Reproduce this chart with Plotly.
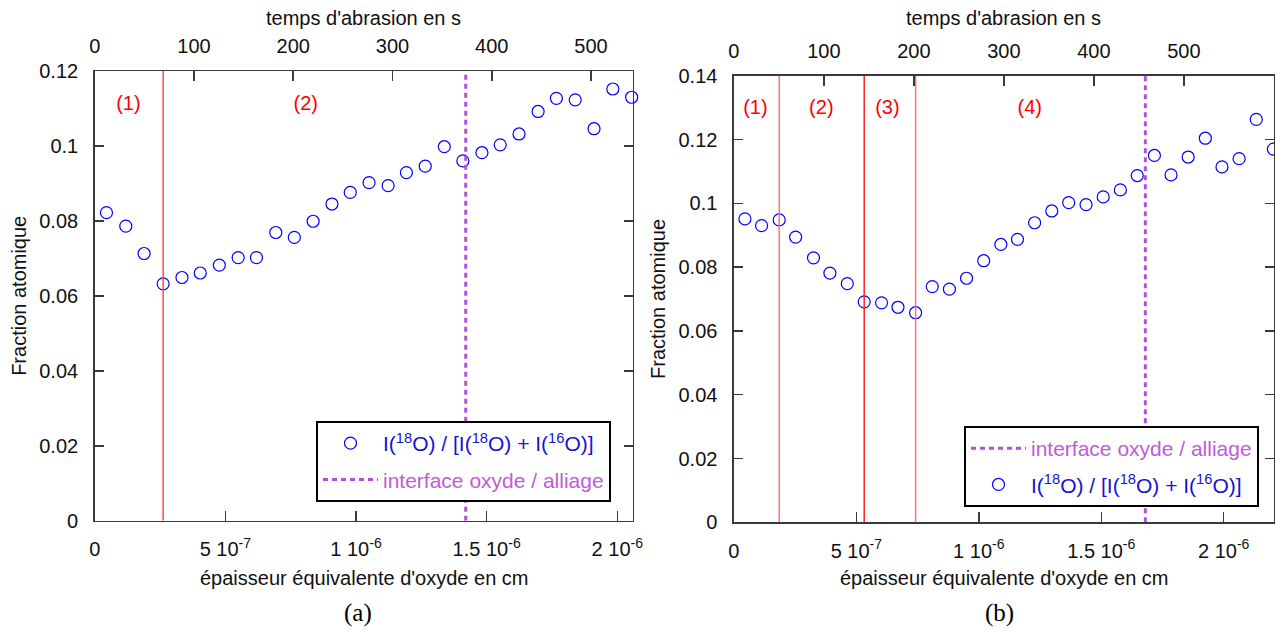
import plotly.graph_objects as go

# ---------------- data : panel (a) ----------------
a_depth = [4.5e-8, 1.19e-7, 1.89e-7, 2.62e-7, 3.34e-7, 4.04e-7, 4.77e-7, 5.49e-7, 6.19e-7,
           6.93e-7, 7.64e-7, 8.36e-7, 9.08e-7, 9.78e-7, 1.05e-6, 1.123e-6, 1.193e-6, 1.265e-6,
           1.338e-6, 1.409e-6, 1.482e-6, 1.552e-6, 1.624e-6, 1.697e-6, 1.767e-6, 1.839e-6,
           1.911e-6, 1.983e-6, 2.055e-6]
a_frac = [0.0822, 0.0786, 0.0713, 0.0632, 0.0649, 0.0661, 0.0682, 0.0702, 0.0702, 0.0769,
          0.0756, 0.0799, 0.0845, 0.0876, 0.0902, 0.0894, 0.0929, 0.0946, 0.0998, 0.0960,
          0.0982, 0.1003, 0.1032, 0.1092, 0.1127, 0.1123, 0.1046, 0.1152, 0.1130]
a_interface = 1.42e-6
a_limits = [2.62e-7]
a_zone_labels = ["(1)", "(2)"]
a_zone_x = [1.29e-7, 8.08e-7]
a_zone_y = 0.111
a_depth_max = 2.059e-6
a_time_max = 542
a_frac_max = 0.12

# ---------------- data : panel (b) ----------------
b_depth = [4.5e-8, 1.13e-7, 1.85e-7, 2.52e-7, 3.25e-7, 3.92e-7, 4.63e-7, 5.32e-7, 6.03e-7,
           6.70e-7, 7.42e-7, 8.10e-7, 8.80e-7, 9.50e-7, 1.020e-6, 1.090e-6, 1.158e-6, 1.228e-6,
           1.298e-6, 1.367e-6, 1.438e-6, 1.508e-6, 1.578e-6, 1.647e-6, 1.717e-6, 1.785e-6,
           1.855e-6, 1.925e-6, 1.993e-6, 2.063e-6, 2.133e-6, 2.203e-6]
b_frac = [0.0951, 0.0930, 0.0948, 0.0894, 0.0829, 0.0781, 0.0748, 0.0691, 0.0688, 0.0674,
          0.0657, 0.0739, 0.0731, 0.0765, 0.0820, 0.0871, 0.0887, 0.0939, 0.0976, 0.1002,
          0.0996, 0.1020, 0.1042, 0.1087, 0.1150, 0.1089, 0.1145, 0.1204, 0.1114, 0.1140,
          0.1263, 0.1170]
b_interface = 1.68e-6
b_limits = [1.85e-7, 5.32e-7, 7.42e-7]
b_zone_labels = ["(1)", "(2)", "(3)", "(4)"]
b_zone_x = [8.8e-8, 3.57e-7, 6.27e-7, 1.208e-6]
b_zone_y = 0.1297
b_depth_max = 2.205e-6
b_time_max = 600
b_frac_max = 0.14

# ---------------- tick labels ----------------
depth_tickvals = [0, 5e-7, 1e-6, 1.5e-6, 2e-6]
depth_ticktext = ["0", "5 10<sup>-7</sup>", "1 10<sup>-6</sup>", "1.5 10<sup>-6</sup>", "2 10<sup>-6</sup>"]
time_tickvals = [0, 100, 200, 300, 400, 500]
frac_dtick = 0.02

# ---------------- styles ----------------
W, H = 1275, 632
FONT = "Liberation Sans, Arial, sans-serif"
FS = 20
LFS = 21
BLUE = "#0000ff"
BLUE_TXT = "#1414d2"
PURPLE = "#b54fd9"
PURPLE_TXT = "#c25ad8"
AXC = "#3a3a3a"
a_limit_colors = ["#ff4a4a"]
b_limit_colors = ["#ff7373", "#ff2020", "#ff7373"]

ratio_name = ("<span style='color:%s'>I(<sup>18</sup>O) / [I(<sup>18</sup>O) + I(<sup>16</sup>O)]</span>"
              % BLUE_TXT)
iface_name = "<span style='color:%s'>interface oxyde / alliage</span>" % PURPLE_TXT


def px_x(p):
    return p / W


def px_y(p):
    return (H - p) / H


a_xdom = [px_x(94.7), px_x(632.7)]
a_ydom = [px_y(520.7), px_y(71.0)]
b_xdom = [px_x(733.9), px_x(1273.9)]
b_ydom = [px_y(522.3), px_y(75.7)]

fig = go.Figure()

# panel (a) traces
fig.add_trace(go.Scatter(x=a_depth, y=a_frac, mode="markers", name=ratio_name,
                         marker=dict(symbol="circle-open", size=12, color=BLUE, line=dict(width=1.2)),
                         cliponaxis=False, xaxis="x", yaxis="y", legend="legend", legendgroup="a1"))
fig.add_trace(go.Scatter(x=[a_interface, a_interface], y=[0, a_frac_max], mode="lines", name=iface_name,
                         line=dict(color=PURPLE, width=3, dash="5px,4px"),
                         xaxis="x", yaxis="y", legend="legend", legendgroup="a2"))
for xv, c in zip(a_limits, a_limit_colors):
    fig.add_trace(go.Scatter(x=[xv, xv], y=[0, a_frac_max], mode="lines", showlegend=False,
                             line=dict(color=c, width=1.5), xaxis="x", yaxis="y"))
fig.add_trace(go.Scatter(x=a_zone_x, y=[a_zone_y] * len(a_zone_x), mode="text", text=a_zone_labels,
                         textfont=dict(color="#ff0000", size=FS, family=FONT), showlegend=False,
                         xaxis="x", yaxis="y"))

# panel (b) traces
fig.add_trace(go.Scatter(x=[b_interface, b_interface], y=[0, b_frac_max], mode="lines", name=iface_name,
                         line=dict(color=PURPLE, width=3, dash="5px,4px"),
                         xaxis="x2", yaxis="y2", legend="legend2", legendgroup="b1"))
fig.add_trace(go.Scatter(x=b_depth, y=b_frac, mode="markers", name=ratio_name,
                         marker=dict(symbol="circle-open", size=12, color=BLUE, line=dict(width=1.2)),
                         cliponaxis=False, xaxis="x2", yaxis="y2", legend="legend2", legendgroup="b2"))
for xv, c in zip(b_limits, b_limit_colors):
    fig.add_trace(go.Scatter(x=[xv, xv], y=[0, b_frac_max], mode="lines", showlegend=False,
                             line=dict(color=c, width=1.5), xaxis="x2", yaxis="y2"))
fig.add_trace(go.Scatter(x=b_zone_x, y=[b_zone_y] * len(b_zone_x), mode="text", text=b_zone_labels,
                         textfont=dict(color="#ff0000", size=FS, family=FONT), showlegend=False,
                         xaxis="x2", yaxis="y2"))

# invisible traces to activate top axes
fig.add_trace(go.Scatter(x=[0], y=[0], mode="markers", marker=dict(opacity=0), showlegend=False,
                         hoverinfo="skip", xaxis="x3", yaxis="y"))
fig.add_trace(go.Scatter(x=[0], y=[0], mode="markers", marker=dict(opacity=0), showlegend=False,
                         hoverinfo="skip", xaxis="x4", yaxis="y2"))

tickfont = dict(family=FONT, size=FS, color="#111111")
common_x = dict(showgrid=False, zeroline=False, showline=True, linecolor=AXC, linewidth=1.5,
                ticks="inside", ticklen=10, tickwidth=1.5, tickcolor=AXC, tickfont=tickfont,
                mirror=True, ticklabelstandoff=10, automargin=False)
common_y = dict(showgrid=False, zeroline=False, showline=True, linecolor=AXC, linewidth=1.5,
                ticks="inside", ticklen=9, tickwidth=1.5, tickcolor=AXC, tickfont=tickfont,
                mirror="ticks", dtick=frac_dtick, ticklabelstandoff=11, automargin=False)
top_x = dict(showgrid=False, zeroline=False, showline=False, side="top",
             ticks="inside", ticklen=10, tickwidth=1.5, tickcolor=AXC, tickfont=tickfont,
             tickvals=time_tickvals, ticklabelstandoff=13, automargin=False)

legend_common = dict(xanchor="right", yanchor="bottom", bgcolor="white", bordercolor="black",
                     borderwidth=2, font=dict(family=FONT, size=LFS), itemwidth=55,
                     tracegroupgap=6)

fig.update_layout(
    width=W, height=H,
    margin=dict(l=0, r=0, t=0, b=0, autoexpand=False),
    paper_bgcolor="white", plot_bgcolor="white",
    font=dict(family=FONT, size=FS, color="#111111"),
    hovermode=False,
    xaxis=dict(domain=a_xdom, range=[0, a_depth_max], anchor="y",
               tickvals=depth_tickvals, ticktext=depth_ticktext, **common_x),
    yaxis=dict(domain=a_ydom, range=[0, a_frac_max], anchor="x", **common_y),
    xaxis3=dict(domain=a_xdom, range=[0, a_time_max], anchor="y", overlaying="x", **top_x),
    xaxis2=dict(domain=b_xdom, range=[0, b_depth_max], anchor="y2",
                tickvals=depth_tickvals, ticktext=depth_ticktext, **common_x),
    yaxis2=dict(domain=b_ydom, range=[0, b_frac_max], anchor="x2", **common_y),
    xaxis4=dict(domain=b_xdom, range=[0, b_time_max], anchor="y2", overlaying="x2", **top_x),
    legend=dict(x=px_x(611), y=px_y(502), **legend_common),
    legend2=dict(x=px_x(1259), y=px_y(507), **legend_common),
    showlegend=True,
)

ann_font = dict(family=FONT, size=FS, color="#111111")
annotations = [
    dict(text="temps d'abrasion en s", x=(a_xdom[0] + a_xdom[1]) / 2, y=px_y(18), xref="paper", yref="paper",
         showarrow=False, font=ann_font, xanchor="center", yanchor="middle"),
    dict(text="temps d'abrasion en s", x=(b_xdom[0] + b_xdom[1]) / 2, y=px_y(18), xref="paper", yref="paper",
         showarrow=False, font=ann_font, xanchor="center", yanchor="middle"),
    dict(text="épaisseur équivalente d'oxyde en cm", x=(a_xdom[0] + a_xdom[1]) / 2, y=px_y(578),
         xref="paper", yref="paper", showarrow=False, font=ann_font, xanchor="center", yanchor="middle"),
    dict(text="épaisseur équivalente d'oxyde en cm", x=(b_xdom[0] + b_xdom[1]) / 2, y=px_y(578),
         xref="paper", yref="paper", showarrow=False, font=ann_font, xanchor="center", yanchor="middle"),
    dict(text="Fraction atomique", x=px_x(19), y=(a_ydom[0] + a_ydom[1]) / 2, xref="paper", yref="paper",
         showarrow=False, font=ann_font, textangle=-90, xanchor="center", yanchor="middle"),
    dict(text="Fraction atomique", x=px_x(658), y=(b_ydom[0] + b_ydom[1]) / 2, xref="paper", yref="paper",
         showarrow=False, font=ann_font, textangle=-90, xanchor="center", yanchor="middle"),
    dict(text="(a)", x=px_x(358), y=px_y(613), xref="paper", yref="paper", showarrow=False,
         font=dict(family="Liberation Serif, Times New Roman, serif", size=25, color="#000000"),
         xanchor="center", yanchor="middle"),
    dict(text="(b)", x=px_x(999), y=px_y(613), xref="paper", yref="paper", showarrow=False,
         font=dict(family="Liberation Serif, Times New Roman, serif", size=25, color="#000000"),
         xanchor="center", yanchor="middle"),
]
fig.update_layout(annotations=annotations)

fig.write_html("out.html", config={"displayModeBar": False, "staticPlot": True},
               post_script="document.body.style.margin='0';document.body.style.overflow='hidden';")
